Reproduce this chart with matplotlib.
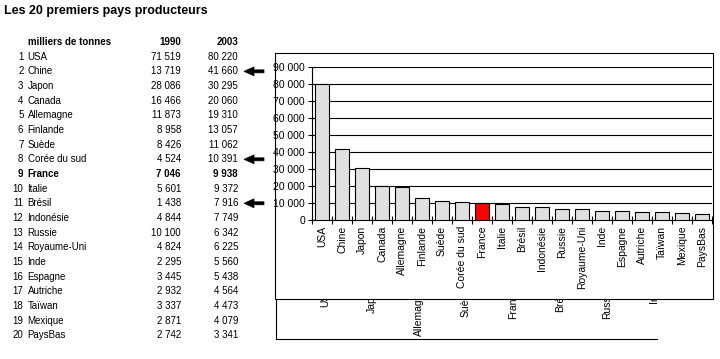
import numpy as np
import matplotlib
matplotlib.use("Agg")
import matplotlib.pyplot as plt
from matplotlib.patches import Rectangle, Polygon
from matplotlib.ticker import FuncFormatter

plt.rcParams['font.family'] = ['Liberation Sans', 'DejaVu Sans']

title = "Les 20 premiers pays producteurs"
unit_label = "milliers de tonnes"
years = ["1990", "2003"]
countries = ["USA", "Chine", "Japon", "Canada", "Allemagne", "Finlande", "Suède",
             "Corée du sud", "France", "Italie", "Brésil", "Indonésie", "Russie",
             "Royaume-Uni", "Inde", "Espagne", "Autriche", "Taïwan", "Mexique", "PaysBas"]
prod_1990 = [71519, 13719, 28086, 16466, 11873, 8958, 8426, 4524, 7046, 5601,
             1438, 4844, 10100, 4824, 2295, 3445, 2932, 3337, 2871, 2742]
prod_2003 = [80220, 41660, 30295, 20060, 19310, 13057, 11062, 10391, 9938, 9372,
             7916, 7749, 6342, 6225, 5560, 5438, 4564, 4473, 4079, 3341]
highlight = "France"
arrow_rows = ["Chine", "Corée du sud", "Brésil"]
# labels of the leftover chart peeking out under the main frame
ghost_labels = ["USA", "Japon", "Allemagne", "Suède", "France", "Brésil", "Russie", "Inde"]
ghost_bottom = [307, 313, 336, 317, 319, 312, 319, 303]


def fmt(v):
    return f"{v:,}".replace(",", " ")


fig = plt.figure(figsize=(7.2, 3.59), dpi=100)

# overlay in pixel coordinates for table, arrows and frame
ov = fig.add_axes([0, 0, 1, 1])
ov.set_xlim(0, 720)
ov.set_ylim(359, 0)
ov.axis('off')
ov.set_zorder(-1)

ov.text(4, 11, title, fontsize=9, fontweight='bold', va='center', ha='left')
ov.text(28, 42, unit_label, fontsize=7, fontweight='bold', va='center', ha='left')
ov.text(181, 42, years[0], fontsize=7, fontweight='bold', va='center', ha='right')
ov.text(238, 42, years[1], fontsize=7, fontweight='bold', va='center', ha='right')

for i, name in enumerate(countries):
    y = 56.7 + i * 14.66
    w = 'bold' if name == highlight else 'normal'
    ov.text(23.5, y, str(i + 1), fontsize=7, fontweight=w, va='center', ha='right')
    ov.text(27.5, y, name, fontsize=7, fontweight=w, va='center', ha='left')
    ov.text(181, y, fmt(prod_1990[i]), fontsize=7, fontweight=w, va='center', ha='right')
    ov.text(238, y, fmt(prod_2003[i]), fontsize=7, fontweight=w, va='center', ha='right')
    if name in arrow_rows:
        pts = [(244, y), (254, y - 4.5), (254, y - 1.5), (264, y - 1.5),
               (264, y + 1.5), (254, y + 1.5), (254, y + 4.5)]
        ov.add_patch(Polygon(pts, closed=True, facecolor='black', edgecolor='black', lw=0.5))

# ghost chart behind the main one
ov.plot([275.7, 275.7], [299, 339], color='black', lw=0.8, zorder=1)
ov.plot([275.7, 656.7], [339, 339], color='black', lw=0.8, zorder=1)
for k, lab in enumerate(ghost_labels):
    ov.text(325 + 47 * k, ghost_bottom[k], lab, fontsize=7.5, rotation=90,
            ha='center', va='bottom', zorder=1)

# main chart frame
ov.add_patch(Rectangle((274.5, 53), 713 - 274.5, 298.5 - 53, facecolor='white',
                       edgecolor='black', lw=0.8, zorder=2))

ax = fig.add_axes([312 / 720, (359 - 220) / 359, 400 / 720, 153 / 359])
ax.set_zorder(0)
ax.patch.set_facecolor('none')

x = np.arange(len(countries))
colors = ['#ff0000' if c == highlight else '#e0e0e0' for c in countries]
ax.bar(x, prod_2003, width=0.68, color=colors, edgecolor='black', linewidth=0.8, zorder=3)

ax.set_xlim(-0.5, len(countries) - 0.5)
ax.set_ylim(0, 90000)
ax.set_yticks(np.arange(0, 90001, 10000))
ax.yaxis.set_major_formatter(FuncFormatter(lambda v, p: fmt(int(v))))
ax.yaxis.grid(True, color='black', linewidth=0.8)
ax.set_axisbelow(True)

for s in ['top', 'right']:
    ax.spines[s].set_visible(False)
for s in ['left', 'bottom']:
    ax.spines[s].set_linewidth(0.8)

ax.tick_params(axis='y', direction='inout', length=6, width=0.8, labelsize=7.5, pad=2)
ax.set_xticks(x)
ax.set_xticklabels(countries, rotation=90, fontsize=7.5)
ax.tick_params(axis='x', which='major', length=0, pad=4)
ax.set_xticks(np.arange(-0.5, len(countries)), minor=True)
ax.tick_params(axis='x', which='minor', direction='inout', length=6, width=0.8)

fig.savefig("out.png", dpi=100)
